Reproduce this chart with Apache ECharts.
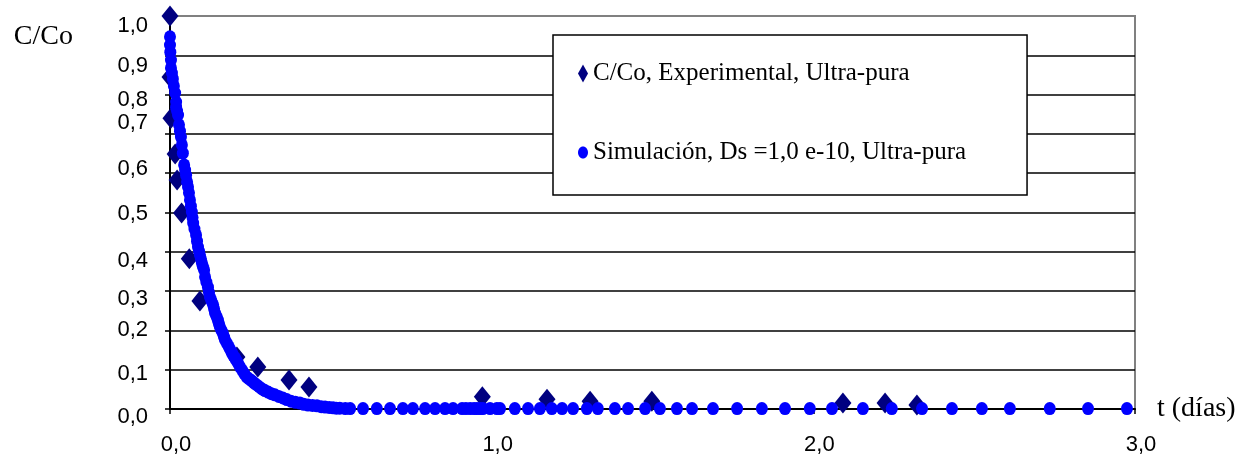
<!DOCTYPE html>
<html>
<head>
<meta charset="utf-8">
<script src="https://cdn.jsdelivr.net/npm/echarts@6/dist/echarts.min.js"></script>
<style>html,body{margin:0;padding:0;background:#fff}#c{width:1249px;height:460px}</style>
</head>
<body>
<div id="c"></div>
<script>
// ---- data ----
var expName = 'C/Co, Experimental, Ultra-pura';
var simName = 'Simulación, Ds =1,0 e-10, Ultra-pura';
var expT = [0.000, 0.000, 0.003, 0.016, 0.022, 0.036, 0.060, 0.093, 0.208, 0.273, 0.370, 0.432, 0.971, 1.172, 1.306, 1.498, 2.092, 2.223, 2.322];
var expC = [1.000, 0.845, 0.740, 0.649, 0.583, 0.499, 0.382, 0.275, 0.132, 0.107, 0.074, 0.056, 0.031, 0.025, 0.020, 0.020, 0.015, 0.015, 0.010];
var simT = [0.000, 0.000, 0.001, 0.003, 0.003, 0.006, 0.009, 0.012, 0.016, 0.019, 0.019, 0.022, 0.025, 0.028, 0.031, 0.034, 0.037, 0.040, 0.044, 0.047,
            0.050, 0.053, 0.056, 0.059, 0.062, 0.065, 0.068, 0.070, 0.072, 0.076, 0.081, 0.084, 0.087, 0.090, 0.093, 0.096, 0.099, 0.102, 0.106, 0.109,
            0.113, 0.118, 0.121, 0.124, 0.129, 0.134, 0.137, 0.140, 0.145, 0.149, 0.152, 0.155, 0.160, 0.165, 0.168, 0.171, 0.177, 0.183, 0.188, 0.193,
            0.197, 0.202, 0.206, 0.211, 0.217, 0.224, 0.231, 0.239, 0.247, 0.255, 0.262, 0.270, 0.278, 0.286, 0.295, 0.305, 0.315, 0.326, 0.338, 0.351,
            0.363, 0.376, 0.390, 0.404, 0.416, 0.429, 0.443, 0.457, 0.470, 0.482, 0.495, 0.507, 0.517, 0.528, 0.545, 0.560, 0.600, 0.643, 0.684, 0.724,
            0.755, 0.793, 0.824, 0.855, 0.880, 0.908, 0.920, 0.933, 0.945, 0.954, 0.964, 0.973, 0.995, 1.016, 1.026, 1.072, 1.113, 1.150, 1.187, 1.219,
            1.253, 1.296, 1.330, 1.383, 1.424, 1.477, 1.523, 1.576, 1.623, 1.688, 1.763, 1.840, 1.912, 1.989, 2.058, 2.154, 2.244, 2.338, 2.431, 2.524,
            2.611, 2.735, 2.854, 2.975];
var simC = [0.947, 0.926, 0.908, 0.888, 0.868, 0.855, 0.840, 0.822, 0.804, 0.781, 0.768, 0.758, 0.748, 0.723, 0.707, 0.692, 0.672, 0.651, 0.621, 0.608,
            0.595, 0.578, 0.565, 0.550, 0.532, 0.516, 0.501, 0.487, 0.473, 0.458, 0.443, 0.427, 0.412, 0.402, 0.392, 0.382, 0.372, 0.363, 0.354, 0.336,
            0.323, 0.310, 0.297, 0.285, 0.275, 0.265, 0.255, 0.244, 0.235, 0.226, 0.217, 0.209, 0.200, 0.191, 0.183, 0.176, 0.167, 0.158, 0.150, 0.142,
            0.136, 0.130, 0.124, 0.117, 0.108, 0.099, 0.090, 0.081, 0.076, 0.071, 0.066, 0.061, 0.056, 0.051, 0.047, 0.043, 0.039, 0.036, 0.032, 0.028,
            0.024, 0.020, 0.017, 0.015, 0.012, 0.010, 0.009, 0.008, 0.006, 0.005, 0.004, 0.003, 0.002, 0.002, 0.001, 0.001, 0.001, 0.001, 0.001, 0.001,
            0.001, 0.001, 0.001, 0.001, 0.001, 0.001, 0.001, 0.001, 0.001, 0.001, 0.001, 0.001, 0.001, 0.001, 0.001, 0.001, 0.001, 0.001, 0.001, 0.001,
            0.001, 0.001, 0.001, 0.001, 0.001, 0.001, 0.001, 0.001, 0.001, 0.001, 0.001, 0.001, 0.001, 0.001, 0.001, 0.001, 0.001, 0.001, 0.001, 0.001,
            0.001, 0.001, 0.001, 0.001];
var yTicks = ['0,0', '0,1', '0,2', '0,3', '0,4', '0,5', '0,6', '0,7', '0,8', '0,9', '1,0'];
var xTicks = ['0,0', '1,0', '2,0', '3,0'];
var yTitle = 'C/Co';
var xTitle = 't (días)';

// ---- style (label vertical shifts, px) ----
var yLabelShift = [8, 4, 0, 8, 9, 1, -4, -11, 5, 11, 10];

function pairs(a, b) { return a.map(function (v, i) { return [v, b[i]]; }); }

var rich = {};
yLabelShift.forEach(function (d, i) {
  rich['s' + i] = { fontFamily: '"Liberation Sans", Arial, sans-serif', fontSize: 22, color: '#000',
    padding: d >= 0 ? [2 * d, 0, 0, 0] : [0, 0, -2 * d, 0] };
});

var chart = echarts.init(document.getElementById('c'), null, { renderer: 'canvas' });
chart.setOption({
  animation: false,
  backgroundColor: '#fff',
  grid: { left: 170, right: 114, top: 16, bottom: 51, show: true, borderColor: '#808080', borderWidth: 2, backgroundColor: 'transparent' },
  xAxis: {
    type: 'value', min: 0, max: 3, interval: 1,
    name: xTitle, nameLocation: 'end', nameGap: 22,
    nameTextStyle: { fontFamily: '"Liberation Serif", "Times New Roman", serif', fontSize: 28, color: '#000', align: 'left', verticalAlign: 'middle', padding: [0, 0, 18, 0] },
    axisLine: { show: true, onZero: false, lineStyle: { color: '#000', width: 2 } },
    axisTick: { show: true, inside: false, length: 5, lineStyle: { color: '#000', width: 1.5 } },
    splitLine: { show: false },
    axisLabel: {
      margin: 25, fontFamily: '"Liberation Sans", Arial, sans-serif', fontSize: 22, color: '#000', padding: [0, 0, 0, 12],
      formatter: function (v) { return xTicks[Math.round(v)]; }
    }
  },
  yAxis: {
    type: 'value', min: 0, max: 1, interval: 0.1,
    name: yTitle, nameLocation: 'end', nameGap: -21,
    nameTextStyle: { fontFamily: '"Liberation Serif", "Times New Roman", serif', fontSize: 28, color: '#000', align: 'right', verticalAlign: 'middle', padding: [0, 97, 0, 0] },
    axisLine: { show: true, onZero: false, lineStyle: { color: '#000', width: 2 } },
    axisTick: { show: true, inside: false, length: 5, lineStyle: { color: '#000', width: 1.5 } },
    splitLine: { show: true, showMaxLine: false, showMinLine: false, lineStyle: { color: '#000', width: 1.5 } },
    axisLabel: {
      margin: 22, rich: rich,
      formatter: function (v) { var i = Math.round(v * 10); return '{s' + i + '|' + yTicks[i] + '}'; }
    }
  },
  legend: {
    orient: 'vertical', left: 553, top: 35,
    padding: [26, 61, 30, 25],
    itemGap: 54, itemWidth: 10, itemHeight: 18,
    backgroundColor: '#fff', borderColor: '#000', borderWidth: 1.5, borderRadius: 0,
    textStyle: { fontFamily: '"Liberation Serif", "Times New Roman", serif', fontSize: 25, color: '#000', lineHeight: 25 },
    data: [
      { name: expName, icon: 'path://M5,0 L10,9 L5,18 L0,9 Z', itemStyle: { color: '#000080' } },
      { name: simName, icon: 'path://M5,0 C7.8,0 10,2.7 10,6 C10,9.3 7.8,12 5,12 C2.2,12 0,9.3 0,6 C0,2.7 2.2,0 5,0 Z', itemStyle: { color: '#0000ff' } }
    ]
  },
  series: [
    {
      name: expName, type: 'scatter', symbol: 'diamond', symbolSize: [17, 21],
      itemStyle: { color: '#000080', opacity: 1 },
      data: pairs(expT, expC), z: 2
    },
    {
      name: simName, type: 'scatter', symbol: 'circle', symbolSize: [12, 13],
      itemStyle: { color: '#0000ff', opacity: 1 },
      data: pairs(simT, simC), z: 3
    }
  ]
});
</script>
</body>
</html>
